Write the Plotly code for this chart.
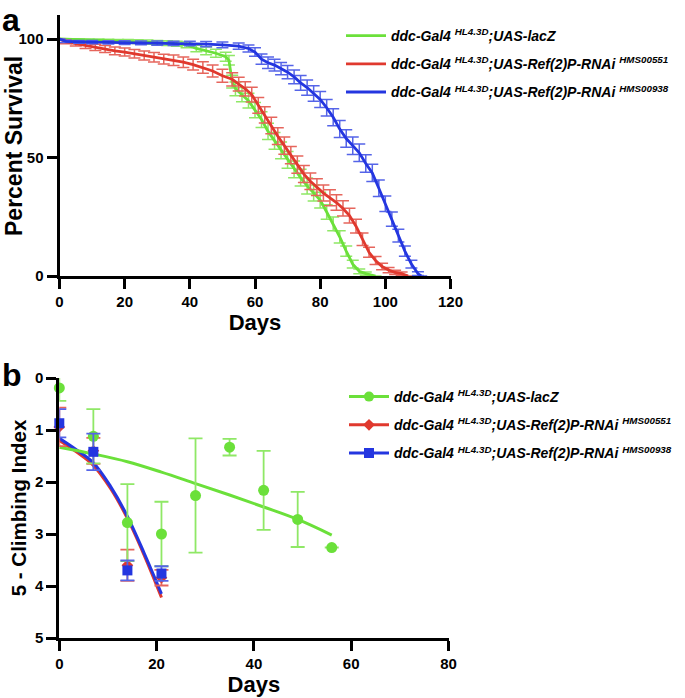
import plotly.graph_objects as go

# ---------------- Panel a : survival ----------------
lacz_days = [0, 3, 6, 9, 12, 15, 18, 21, 24, 27, 30, 33, 36, 39, 42, 45, 48, 51, 52,
             53, 54, 56, 58, 60, 62, 64, 66, 68, 70, 72, 74, 76, 78, 80, 82, 84, 86, 88, 90, 92, 94, 97]
lacz_surv = [100, 99.8, 99.7, 99.5, 99.4, 99.2, 99.1, 99, 98.9, 98.7, 98.5, 98.3, 98, 97.5, 96, 95, 94, 92.5, 91,
             82, 79, 76.5, 74, 70, 66, 61, 57, 53, 49, 45, 41.5, 38, 35, 32, 27, 22, 16.5, 10.5, 5, 2, 1, 0]
lacz_serr = [0, 0.3, 0.4, 0.5, 0.6, 0.7, 0.7, 0.8, 0.8, 0.9, 0.9, 1.0, 1.1, 1.2, 1.4, 1.6, 1.7, 1.9, 2.0,
             2.7, 2.9, 3.0, 3.1, 3.2, 3.3, 3.4, 3.5, 3.5, 3.5, 3.5, 3.5, 3.4, 3.4, 3.3, 3.1, 2.9, 2.6, 2.2, 1.6, 1.0, 0.7, 0]

r551_days = [0, 2, 5, 8, 11, 14, 17, 20, 23, 26, 29, 32, 35, 38, 41, 44, 47, 50,
             53, 55, 57, 59, 61, 63, 65, 67, 69, 71, 73, 75, 77, 79, 81, 83, 85, 87, 89, 91, 93, 95, 97, 99, 101, 103, 105, 107]
r551_surv = [100, 98.8, 98, 97.2, 96.5, 95.8, 95, 94.5, 93.8, 93, 92.3, 91.5, 91, 90.2, 89.2, 88, 86.5, 84.5,
             83, 81, 79, 76.5, 72, 68, 63.5, 59, 55, 51, 47, 43, 40, 37.5, 35, 33, 31, 28.5, 25.5, 21, 15.5, 10, 6.5, 4, 2.5, 1.5, 1, 0]
r551_serr = [0, 0.8, 1.0, 1.2, 1.3, 1.5, 1.6, 1.7, 1.8, 1.9, 2.0, 2.1, 2.2, 2.2, 2.3, 2.4, 2.5, 2.7,
             2.8, 2.9, 3.0, 3.1, 3.3, 3.4, 3.5, 3.5, 3.6, 3.6, 3.6, 3.6, 3.5, 3.5, 3.4, 3.4, 3.3, 3.2, 3.1, 2.9, 2.6, 2.1, 1.7, 1.4, 1.1, 0.9, 0.7, 0]

r938_days = [0, 2, 6, 10, 15, 20, 25, 30, 35, 40, 45, 50, 55, 58,
             60, 62, 64, 66, 68, 70, 72, 74, 76, 78, 80, 82, 84, 86, 88, 90, 92, 94, 96, 98, 100, 102, 104, 106, 108, 110, 111]
r938_surv = [100, 99, 98.8, 98.7, 98.6, 98.5, 98.4, 98.3, 98.2, 98.1, 97.8, 97.5, 97, 96,
             94.5, 91.5, 90, 89, 87.5, 86, 84, 81.5, 79.5, 77, 74.5, 71, 67, 62, 58, 55, 52, 47.5, 43.5, 37, 30.5, 24, 17, 10.5, 5, 1, 0]
r938_serr = [0, 0.5, 0.6, 0.7, 0.7, 0.8, 0.8, 0.9, 0.9, 1.0, 1.1, 1.2, 1.3, 1.5,
             1.8, 2.2, 2.4, 2.5, 2.6, 2.8, 2.9, 3.1, 3.2, 3.3, 3.4, 3.5, 3.6, 3.6, 3.7, 3.7, 3.7, 3.7, 3.6, 3.5, 3.3, 3.0, 2.7, 2.2, 1.6, 0.8, 0]

surv_xticks = [0, 20, 40, 60, 80, 100, 120]
surv_yticks = [0, 50, 100]

# ---------------- Panel b : climbing ----------------
climb_days = [0, 7, 14, 21, 28, 35, 42, 49, 56]
lacz_climb = [0.19, 1.12, 2.78, 3.00, 2.26, 1.33, 2.16, 2.72, 3.26]
lacz_cerr = [0.25, 0.52, 0.74, 0.62, 1.10, 0.16, 0.76, 0.53, 0]

rnai_days = [0, 7, 14, 21]
r551_climb = [0.94, 1.40, 3.60, 3.84]
r551_cerr = [0.37, 0.25, 0.30, 0.15]
r938_climb = [0.87, 1.42, 3.70, 3.76]
r938_cerr = [0.27, 0.35, 0.19, 0.14]

fit_lacz_days = [0, 7, 14, 21, 28, 35, 42, 49, 56]
fit_lacz = [1.33, 1.46, 1.61, 1.81, 2.03, 2.25, 2.48, 2.72, 3.02]
fit_rnai_days = [0, 3.5, 7, 10.5, 14, 17.5, 21]
fit_r551 = [1.20, 1.42, 1.68, 2.12, 2.70, 3.42, 4.22]
fit_r938 = [1.16, 1.38, 1.63, 2.08, 2.66, 3.38, 4.15]

climb_xticks = [0, 20, 40, 60, 80]
climb_yticks = [0, 1, 2, 3, 4, 5]

names = ["ddc-Gal4 <sup>HL4.3D</sup>;UAS-lacZ",
         "ddc-Gal4 <sup>HL4.3D</sup>;UAS-Ref(2)P-RNAi <sup>HMS00551</sup>",
         "ddc-Gal4 <sup>HL4.3D</sup>;UAS-Ref(2)P-RNAi <sup>HMS00938</sup>"]

GREEN, RED, BLUE = "#6BE03A", "#E0392E", "#2436E0"
GREEN_E, RED_E, BLUE_E = "#8FE866", "#E6655C", "#5564E8"

fig = go.Figure()

# panel a traces
for d, s, e, c, ce, n in [(lacz_days, lacz_surv, lacz_serr, GREEN, GREEN_E, names[0]),
                          (r551_days, r551_surv, r551_serr, RED, RED_E, names[1]),
                          (r938_days, r938_surv, r938_serr, BLUE, BLUE_E, names[2])]:
    fig.add_trace(go.Scatter(
        x=d, y=s, mode="lines", name=n, legend="legend", legendgroup=n,
        line=dict(color=c, width=2.8),
        error_y=dict(type="data", array=e, visible=True, color=ce, thickness=1.5, width=6),
        xaxis="x", yaxis="y", cliponaxis=False))

# panel b fit lines
for d, v, c in [(fit_rnai_days, fit_r551, RED), (fit_rnai_days, fit_r938, BLUE), (fit_lacz_days, fit_lacz, GREEN)]:
    fig.add_trace(go.Scatter(x=d, y=v, mode="lines", line=dict(color=c, width=3, shape="spline"),
                             showlegend=False, xaxis="x2", yaxis="y2", hoverinfo="skip"))

# panel b markers
for d, v, e, c, ce, sym, sz in [(rnai_days, r551_climb, r551_cerr, RED, RED_E, "diamond", 9),
                                (climb_days, lacz_climb, lacz_cerr, GREEN, GREEN_E, "circle", 11),
                                (rnai_days, r938_climb, r938_cerr, BLUE, BLUE_E, "square", 10)]:
    fig.add_trace(go.Scatter(
        x=d, y=v, mode="markers", marker=dict(color=c, size=sz, symbol=sym),
        error_y=dict(type="data", array=e, visible=True, color=ce, thickness=1.8, width=7),
        showlegend=False, xaxis="x2", yaxis="y2", cliponaxis=False))

# panel b legend entries
for n, c, sym, sz in [(names[0], GREEN, "circle", 10), (names[1], RED, "diamond", 9), (names[2], BLUE, "square", 10)]:
    fig.add_trace(go.Scatter(x=[None], y=[None], mode="lines+markers", name=n,
                             legend="legend2", legendgroup="b" + n,
                             line=dict(color=c, width=3), marker=dict(color=c, size=sz, symbol=sym),
                             xaxis="x2", yaxis="y2"))

W, H = 685, 698


def px(x):
    return x / W


def py(y):
    return 1 - y / H


FONT = "Liberation Sans"
tickfont = dict(family=FONT, size=15, color="black", weight="bold")


def ax(**kw):
    base = dict(showline=True, linecolor="black", linewidth=3, ticks="outside", ticklen=10,
                tickwidth=2.5, tickcolor="black", showgrid=False, zeroline=False, tickfont=tickfont,
                automargin=False)
    base.update(kw)
    return base


legend_font = dict(family=FONT, size=14, color="black", weight="bold", style="italic")

fig.update_layout(
    width=W, height=H, margin=dict(l=0, r=0, t=0, b=0, autoexpand=False),
    paper_bgcolor="white", plot_bgcolor="white",
    font=dict(family=FONT, color="black"),
    xaxis=ax(domain=[px(59.5), px(450.5)], range=[0, 120], tickvals=surv_xticks, anchor="y",
             title=dict(text="Days", font=dict(family=FONT, size=22, weight="bold"), standoff=2)),
    yaxis=ax(domain=[py(276), py(15.3)], range=[0, 110], tickvals=surv_yticks, anchor="x"),
    xaxis2=ax(domain=[px(59.3), px(448.5)], range=[0, 80], tickvals=climb_xticks, anchor="y2",
              title=dict(text="Days", font=dict(family=FONT, size=22, weight="bold"), standoff=0)),
    yaxis2=ax(domain=[py(638), py(378)], range=[5, 0], tickvals=climb_yticks, anchor="x2",
              title=dict(text="5 - Climbing Index", font=dict(family=FONT, size=20.5, weight="bold"), standoff=3)),
    legend=dict(x=px(341), y=py(20), xanchor="left", yanchor="top", bgcolor="rgba(0,0,0,0)",
                font=legend_font, itemwidth=40, tracegroupgap=7),
    legend2=dict(x=px(344), y=py(381), xanchor="left", yanchor="top", bgcolor="rgba(0,0,0,0)",
                 font=legend_font, itemwidth=40, tracegroupgap=7),
    annotations=[
        dict(text="<b>Percent Survival</b>", textangle=-90, x=px(14), y=py(146), xref="paper", yref="paper",
             xanchor="center", yanchor="middle", showarrow=False,
             font=dict(family=FONT, size=23, color="black")),
        dict(text="<b>a</b>", x=0, y=1, xref="paper", yref="paper", xanchor="left", yanchor="top",
             showarrow=False, font=dict(family=FONT, size=32, color="black")),
        dict(text="<b>b</b>", x=0, y=py(355), xref="paper", yref="paper", xanchor="left", yanchor="top",
             showarrow=False, font=dict(family=FONT, size=32, color="black")),
    ],
)

# remove the default 8 px page margin so the figure sits at the window's corner
fig.write_html("out.html", config={"displayModeBar": False},
               post_script="document.body.style.margin='0px';")
